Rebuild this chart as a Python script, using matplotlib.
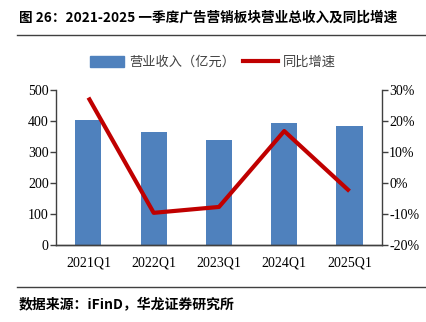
import matplotlib
matplotlib.use('Agg')
import matplotlib.pyplot as plt
from matplotlib.lines import Line2D
from matplotlib.patches import Patch
from matplotlib.ticker import FuncFormatter

plt.rcParams['font.family'] = ['Liberation Serif', 'Noto Sans CJK SC']

QUARTERS = ['2021Q1', '2022Q1', '2023Q1', '2024Q1', '2025Q1']
REVENUE = [403, 366, 339, 394, 384]
YOY = [27.6, -9.6, -7.7, 16.8, -2.6]

fig = plt.figure(figsize=(4.26, 3.22), dpi=100)
ax = fig.add_axes([0.131, 0.239, 0.766, 0.481])
ax2 = ax.twinx()

x = range(len(QUARTERS))
ax.bar(x, REVENUE, width=0.4, color='#4F81BD', zorder=1)
ax2.plot(x, YOY, color='#C00000', lw=3, solid_capstyle='butt', zorder=3)

ax.set_xlim(-0.5, 4.5)
ax.set_ylim(0, 500)
ax.set_yticks(range(0, 501, 100))
ax2.set_ylim(-20, 30)
ax2.set_yticks(range(-20, 31, 10))
ax2.yaxis.set_major_formatter(FuncFormatter(lambda v, p: f'{v:.0f}%'))
ax.set_xticks(list(x))
ax.set_xticklabels(QUARTERS)

for a in (ax, ax2):
    a.spines['top'].set_visible(False)
    for s in ('left', 'right', 'bottom'):
        a.spines[s].set_color('#404040')
        a.spines[s].set_linewidth(1.0)
    a.tick_params(axis='y', labelsize=10, length=4, width=1, color='#404040', pad=1)
ax.tick_params(axis='x', length=0, labelsize=10, pad=8)
ax.spines['right'].set_visible(False)
ax2.spines['left'].set_visible(False)
ax.set_zorder(ax2.get_zorder() - 1)
ax2.patch.set_visible(False)
ax.patch.set_visible(False)

handles = [Patch(color='#4F81BD'), Line2D([0], [0], color='#C00000', lw=3)]
fig.legend(handles, ['营业收入（亿元）', '同比增速'], loc='center', bbox_to_anchor=(0.5, 0.807),
           ncol=2, frameon=False, handlelength=2.6, handleheight=0.9,
           columnspacing=0.6, handletextpad=0.4,
           prop={'family': ['Noto Sans CJK SC'], 'size': 9.5})
for t in fig.legends[0].get_texts():
    t.set_color('#404040')

fig.text(0.045, 0.945, '图 26：2021-2025 一季度广告营销板块营业总收入及同比增速',
         fontsize=9.8, fontweight='bold', va='center', family=['Noto Sans CJK SC'])
fig.add_artist(Line2D([0.04, 1.0], [0.89, 0.89], color='#404040', lw=1))
fig.add_artist(Line2D([0.04, 1.0], [0.109, 0.109], color='#404040', lw=1))
fig.text(0.045, 0.053, '数据来源：iFinD，华龙证券研究所', fontsize=10, fontweight='bold',
         va='center', family=['Noto Sans CJK SC'])

fig.savefig('out.png', dpi=100)
